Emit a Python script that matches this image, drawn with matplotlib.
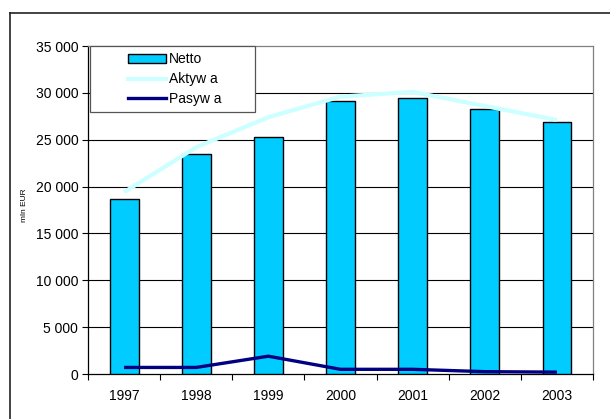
import matplotlib.pyplot as plt
from matplotlib.lines import Line2D
from matplotlib.patches import Rectangle, Patch
from matplotlib.ticker import FuncFormatter, MultipleLocator, FixedLocator

plt.rcParams['font.family'] = ['Liberation Sans', 'DejaVu Sans']

# values, mln EUR
years = ['1997', '1998', '1999', '2000', '2001', '2002', '2003']
netto = [18700, 23500, 25300, 29100, 29500, 28300, 26900]
aktywa = [19400, 24200, 27400, 29600, 30100, 28600, 27100]
pasywa = [700, 700, 1900, 500, 500, 250, 200]

W, H = 610, 419
fig = plt.figure(figsize=(W / 100, H / 100), dpi=100)
ax = fig.add_axes([88 / W, 1 - 374 / H, (593 - 88) / W, (374 - 46) / H])

x = list(range(len(years)))
ax.bar(x, netto, width=0.4, color='#00CCFF', edgecolor='black', linewidth=1.0, zorder=3)
ax.plot(x, aktywa, color='#CCFFFF', linewidth=3.0, zorder=4, solid_capstyle='butt')
ax.plot(x, pasywa, color='#000080', linewidth=2.4, zorder=5, solid_capstyle='butt')

ax.set_xlim(-0.5, len(years) - 0.5)
ax.set_ylim(0, 35000)
ax.yaxis.set_major_locator(MultipleLocator(5000))
ax.yaxis.set_major_formatter(FuncFormatter(lambda v, p: f'{int(v):,}'.replace(',', ' ')))
ax.set_xticks(x)
ax.set_xticklabels(years)
ax.xaxis.set_minor_locator(FixedLocator([i - 0.5 for i in range(len(years) + 1)]))

ax.tick_params(axis='y', direction='out', length=4, width=0.8, labelsize=10, pad=3)
ax.tick_params(axis='x', which='major', length=0, labelsize=10, pad=11)
ax.tick_params(axis='x', which='minor', direction='out', length=4, width=0.8)

for v in range(5000, 35000, 5000):
    ax.axhline(v, color='black', linewidth=0.8, zorder=1)

ax.spines['left'].set_color('black')
ax.spines['bottom'].set_color('black')
ax.spines['top'].set_color('#808080')
ax.spines['right'].set_color('#808080')
for s in ax.spines.values():
    s.set_linewidth(0.9)

# legend box
lx0, ly0, lx1, ly1 = 90, 46, 255, 112
fig.patches.append(Rectangle((lx0 / W, 1 - ly1 / H), (lx1 - lx0) / W, (ly1 - ly0) / H,
                             transform=fig.transFigure, facecolor='white',
                             edgecolor='#555555', linewidth=0.9, zorder=6))
handles = [Patch(facecolor='#00CCFF', edgecolor='black', linewidth=1.0),
           Line2D([], [], color='#CCFFFF', linewidth=3.0),
           Line2D([], [], color='#000080', linewidth=2.4)]
leg = fig.legend(handles, ['Netto', 'Aktyw a', 'Pasyw a'], loc='upper left',
                 bbox_to_anchor=(120 / W, 1 - 44 / H), frameon=False, fontsize=10,
                 handlelength=2.7, handleheight=0.6, handletextpad=0.2,
                 labelspacing=0.42, borderpad=0.1)
leg.set_zorder(7)

fig.text(25 / W, 1 - 205 / H, 'mln EUR', rotation=90, fontsize=6,
         ha='center', va='center')

# outer chart frame (cut off at the right and bottom)
fig.lines.append(Line2D([9.5 / W, 9.5 / W], [0, 1 - 13 / H], transform=fig.transFigure,
                        color='#222222', linewidth=1.2))
fig.lines.append(Line2D([9.5 / W, 1], [1 - 13 / H, 1 - 13 / H], transform=fig.transFigure,
                        color='#222222', linewidth=1.2))

fig.savefig('out.png', dpi=100)
